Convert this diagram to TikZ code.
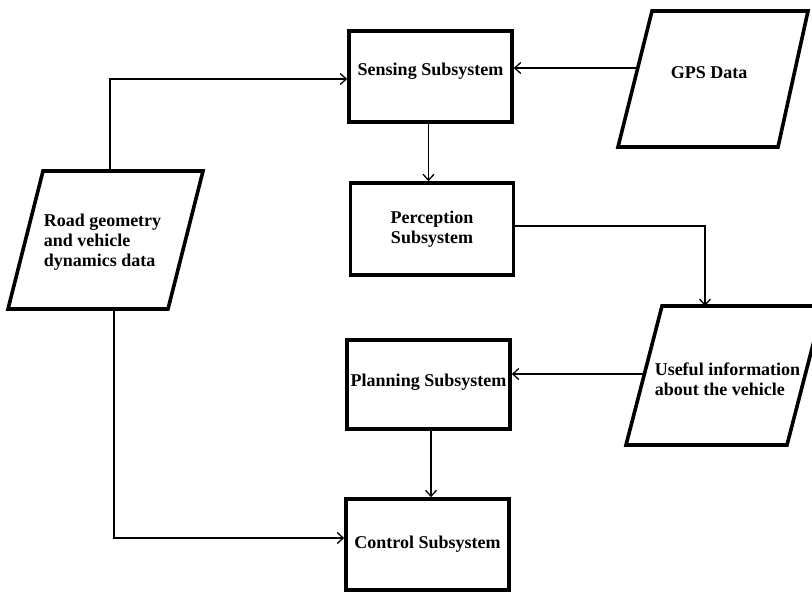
\documentclass[tikz,border=0pt]{standalone}
\usepackage{fontspec}
\setmainfont{Liberation Serif}
\usetikzlibrary{arrows.meta}
\begin{document}
\begin{tikzpicture}[x=1pt,y=-1pt,
  txt/.style={font=\bfseries\fontsize{18}{20.3}\selectfont, inner sep=0pt},
  box/.style={txt, draw, line width=3.6pt, align=center, minimum width=163pt, minimum height=91pt},
  para/.style={draw, line width=3.6pt, line join=miter},
  arr/.style={line width=1.3pt, -{Straight Barb[length=6pt,width=11pt,line width=1.3pt]}}]
\useasboundingbox (0,0) rectangle (812,592);
\clip (0,0) rectangle (812,592);
\fill[white] (0,0) rectangle (812,592);

% rectangles
\node[box, text depth=13.5pt] (sens) at (430.5,76.5) {Sensing Subsystem};
\node[box, minimum height=92pt] (perc) at (432,229) {Perception\\Subsystem};
\node[box, minimum height=89pt, text depth=8pt] (plan) at (428.5,384.5) {Planning Subsystem};
\node[box] (ctrl) at (427.5,544.5) {Control Subsystem};

% parallelograms
\draw[para] (652,11) -- (808,11) -- (778,147) -- (618,147) -- cycle;
\node[txt] (gps) at (709,73) {GPS Data};
\draw[para] (43,171) -- (203,171) -- (168,309) -- (8,309) -- cycle;
\node[txt, align=left] (road) at (102.5,242) {Road geometry\\and vehicle\\dynamics data};
\draw[para] (662,306) -- (823,306) -- (787,445) -- (626,445) -- cycle;
\node[txt, align=left] (useful) at (727.5,379) {Useful information\\about the vehicle};

% attachment points on the parallelogram edges
\coordinate (gpsL) at (637.75,68);
\coordinate (roadT) at (110,171);
\coordinate (roadB) at (114,309);
\coordinate (usefulT) at (705,306);
\coordinate (usefulL) at (644.4,374);

% connectors
\draw[arr] (gpsL) -- (gpsL -| sens.east);
\draw[arr] (roadT) |- ([yshift=-2.5pt]sens.west);
\draw[arr] ([xshift=-2pt]sens.south) -- ([xshift=-2pt]sens.south |- perc.north);
\draw[arr] ([yshift=3pt]perc.east) -| (usefulT);
\draw[arr] (usefulL) -- (usefulL -| plan.east);
\draw[arr] ([xshift=2.5pt]plan.south) -- ([xshift=2.5pt]plan.south |- ctrl.north);
\draw[arr] (roadB) |- ([yshift=6.5pt]ctrl.west);
\end{tikzpicture}
\end{document}
